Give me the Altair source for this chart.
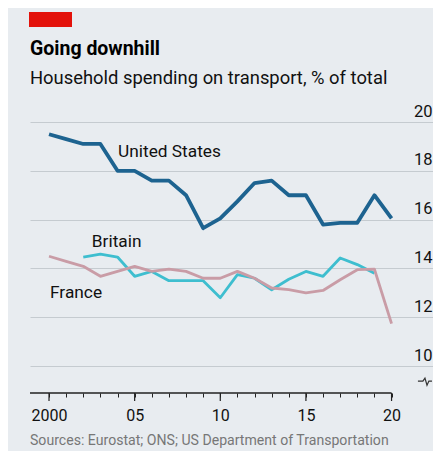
import altair as alt
import pandas as pd

years = list(range(2000, 2021))
us = [19.5, 19.3, 19.1, 19.1, 18.0, 18.0, 17.6, 17.6, 17.0, 15.65, 16.05,
      16.75, 17.5, 17.6, 17.0, 17.0, 15.8, 15.87, 15.87, 17.0, 16.05]
britain_years = list(range(2002, 2020))
britain = [14.47, 14.59, 14.47, 13.68, 13.88, 13.5, 13.5, 13.5, 12.8, 13.75,
           13.6, 13.13, 13.56, 13.88, 13.68, 14.43, 14.16, 13.8]
france = [14.5, 14.29, 14.09, 13.68, 13.88, 14.09, 13.88, 13.97, 13.88, 13.6,
          13.6, 13.88, 13.6, 13.2, 13.13, 13.0, 13.1, 13.54, 13.95, 13.97, 11.74]

y_ticks = [10, 12, 14, 16, 18, 20]
major_years = [2000, 2005, 2010, 2015, 2020]

FONT = "Roboto"
BG = "#e8ecf0"
W, H = 403, 271
XMIN, XMAX = 1998.89, 2022.42
YMIN, YMAX = 8.9, 20

rows = []
for y, v in zip(years, us):
    rows.append({"year": y, "value": v, "country": "United States"})
for y, v in zip(britain_years, britain):
    rows.append({"year": y, "value": v, "country": "Britain"})
for y, v in zip(years, france):
    rows.append({"year": y, "value": v, "country": "France"})
df = pd.DataFrame(rows)

xscale = alt.Scale(domain=[XMIN, XMAX], nice=False, zero=False)
yscale = alt.Scale(domain=[YMIN, YMAX], nice=False, zero=False)

xaxis = alt.Axis(values=years, title=None, grid=False, domain=False,
                 tickSize=4, tickColor="#222", tickWidth=1,
                 labelExpr="datum.value == 2000 ? '2000' : (datum.value % 5 == 0 ? substring(toString(datum.value), 2, 4) : '')",
                 labelFont=FONT, labelFontSize=16, labelColor="#111",
                 labelPadding=10, labelOverlap=False, labelFlush=False)
yaxis = alt.Axis(values=y_ticks, title=None, orient="right", grid=True,
                 gridColor="#c5cbd0", gridWidth=1, domain=False, ticks=False,
                 tickSize=0, labelAlign="right", labelBaseline="bottom",
                 labelPadding=-1, labelOffset=-3, labelFont=FONT,
                 labelFontSize=16.5, labelColor="#111", labelOverlap=False)


def X(field):
    return alt.X(field, scale=xscale, axis=xaxis)


def Y(field):
    return alt.Y(field, scale=yscale, axis=yaxis)


colors = {"United States": "#1d6390", "Britain": "#3ebecf", "France": "#c99ca6"}
widths = {"United States": 3.8, "Britain": 2.8, "France": 2.8}

lines = []
for c in ["United States", "Britain", "France"]:
    lines.append(
        alt.Chart(df[df.country == c]).mark_line(
            color=colors[c], strokeWidth=widths[c], strokeJoin="round", strokeCap="butt"
        ).encode(x=X("year:Q"), y=Y("value:Q"))
    )

labels_df = pd.DataFrame({
    "year": [2004.03, 2002.5, 2000.06],
    "value": [18.57, 14.88, 12.79],
    "label": ["United States", "Britain", "France"],
})
labels = alt.Chart(labels_df).mark_text(
    align="left", baseline="alphabetic", font=FONT, fontSize=17.3, color="#111"
).encode(x=X("year:Q"), y=Y("value:Q"), text="label:N")

axis_line = alt.Chart(pd.DataFrame({"year": [XMIN], "x2": [2020]})).mark_rule(
    color="#222", strokeWidth=1.5
).encode(x=X("year:Q"), x2="x2:Q", y=alt.value(H))

major = alt.Chart(pd.DataFrame({"year": major_years})).mark_rule(
    color="#222", strokeWidth=1.2
).encode(x=X("year:Q"), y=alt.value(H), y2=alt.value(H + 8))

brk = alt.Chart(pd.DataFrame({
    "year": [2021.54, 2021.83, 2021.95, 2022.07, 2022.18, 2022.36],
    "value": [9.39, 9.39, 9.51, 9.22, 9.39, 9.39],
})).mark_line(color="#333", strokeWidth=1.2).encode(
    x=X("year:Q"), y=Y("value:Q"), order="year:Q")

one = pd.DataFrame({"a": [0]})
red = alt.Chart(one).mark_rect(color="#e3120b").encode(
    x=alt.value(-1), x2=alt.value(42), y=alt.value(-110), y2=alt.value(-95))
title = alt.Chart(one).mark_text(
    text="Going downhill", align="left", baseline="alphabetic", font=FONT,
    fontSize=19.5, fontWeight="bold", color="#000").encode(x=alt.value(0), y=alt.value(-67))
subtitle = alt.Chart(one).mark_text(
    text="Household spending on transport, % of total", align="left",
    baseline="alphabetic", font=FONT, fontSize=18.4, color="#111").encode(
    x=alt.value(0), y=alt.value(-38))
source = alt.Chart(one).mark_text(
    text="Sources: Eurostat; ONS; US Department of Transportation", align="left",
    baseline="alphabetic", font=FONT, fontSize=14.1, color="#777").encode(
    x=alt.value(0), y=alt.value(323))

chart = alt.layer(
    *lines, labels, axis_line, major, brk, red, title, subtitle, source
).properties(
    width=W, height=H,
    autosize=alt.AutoSizeParams(type="none"),
    padding={"left": 22, "top": 114, "right": 0, "bottom": 58},
    background=BG,
).configure_view(stroke=None)

chart.save("out.html", embed_options={"renderer": "svg", "actions": False})
